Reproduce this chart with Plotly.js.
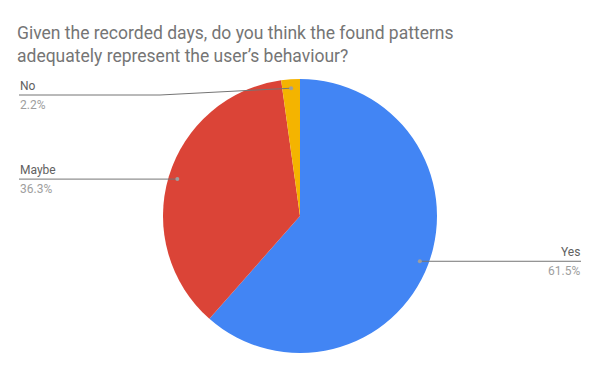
<!DOCTYPE html>
<html>
<head>
<meta charset="utf-8">
<script src="https://cdn.plot.ly/plotly-3.0.1.min.js"></script>
<style>html,body{margin:0;padding:0;background:#fff}#chart{width:600px;height:371px}</style>
</head>
<body>
<div id="chart"></div>
<script>
const categories = ["Yes", "Maybe", "No"];
const values = [61.5, 36.3, 2.2];
const percentLabels = ["61.5%", "36.3%", "2.2%"];
const colors = ["#4285F4", "#DB4437", "#F4B400"];
const titleText = "Given the recorded days, do you think the found patterns<br>adequately represent the user’s behaviour?";

const W = 600, H = 371;
const cx = 300, cy = 216, R = 137;
const px = x => x / W;
const py = y => 1 - y / H;

const total = values.reduce((a, b) => a + b, 0);
const shapes = [];
const annotations = [];
let cum = 0;
values.forEach((v, i) => {
  const mid = (cum + v / 2) / total * 2 * Math.PI;
  cum += v;
  const r = R * 0.935;
  const dx = cx + r * Math.sin(mid);
  const dy = cy - r * Math.cos(mid);
  const right = dx > cx;
  const lineY = Math.max(dy, 95);
  let pts, labelX;
  if (right) {
    labelX = 581;
    pts = [[dx, dy], [labelX, lineY]];
  } else {
    labelX = 19;
    const elbow = Math.min(dx, 160);
    pts = [[labelX, lineY], [elbow, lineY], [dx, dy]];
  }
  const path = pts.map((p, k) => `${k ? "L" : "M"} ${px(p[0])},${py(p[1])}`).join(" ");
  shapes.push({type: "path", xref: "paper", yref: "paper", path: path,
    line: {color: "#757575", width: 1}});
  shapes.push({type: "circle", xref: "paper", yref: "paper",
    x0: px(dx - 2), x1: px(dx + 2), y0: py(dy + 2), y1: py(dy - 2),
    fillcolor: "#9e9e9e", line: {width: 0}});
  annotations.push({xref: "paper", yref: "paper", x: px(labelX), y: py(lineY - 1),
    xanchor: right ? "right" : "left", yanchor: "bottom", showarrow: false,
    text: categories[i], font: {family: "Roboto", size: 12, color: "#616161"}, borderpad: 0});
  annotations.push({xref: "paper", yref: "paper", x: px(labelX), y: py(lineY + 2),
    xanchor: right ? "right" : "left", yanchor: "top", showarrow: false,
    text: percentLabels[i], font: {family: "Roboto", size: 12, color: "#9e9e9e"}, borderpad: 0});
});

const data = [{
  type: "pie",
  labels: categories,
  values: values,
  sort: false,
  direction: "clockwise",
  rotation: 0,
  textinfo: "none",
  hoverinfo: "label+percent",
  marker: {colors: colors, line: {width: 0}},
  domain: {x: [px(cx - R), px(cx + R)], y: [py(cy + R), py(cy - R)]},
  showlegend: false
}];

const layout = {
  width: W, height: H,
  margin: {l: 0, r: 0, t: 0, b: 0},
  paper_bgcolor: "#ffffff",
  title: {
    text: titleText,
    font: {family: "Roboto", size: 17.5, color: "#757575"},
    xref: "paper", x: px(17), xanchor: "left",
    yref: "container", y: py(39), yanchor: "top"
  },
  shapes: shapes,
  annotations: annotations
};

Plotly.newPlot("chart", data, layout, {displayModeBar: false, staticPlot: true});
</script>
</body>
</html>
